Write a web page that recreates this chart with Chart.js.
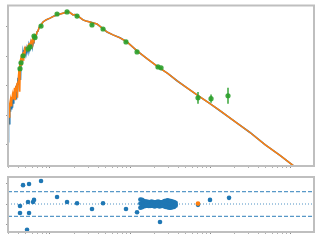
<!DOCTYPE html>
<html>
<head>
<meta charset="utf-8">
<script src="https://cdn.jsdelivr.net/npm/chart.js@4"></script>
<style>
  html, body { margin: 0; padding: 0; background: #fff; }
  #wrap { position: relative; width: 320px; height: 240px; }
  canvas { position: absolute; left: 0; }
  #sedChart { top: 0; }
  #residChart { top: 170px; }
</style>
</head>
<body>
<div id="wrap">
  <canvas id="sedChart" width="320" height="170"></canvas>
  <canvas id="residChart" width="320" height="70"></canvas>
</div>
<script>
// everything is log10: wavelength (Angstrom) and flux

// noisy UV part of the model, full res (blue) and binned (orange)
const uvWave = [2.475, 2.481, 2.488, 2.494, 2.500, 2.506, 2.513, 2.519, 2.525, 2.531,
  2.538, 2.544, 2.550, 2.556, 2.563, 2.569, 2.575, 2.581, 2.588, 2.594,
  2.600, 2.606, 2.613, 2.619, 2.625, 2.631, 2.638, 2.644, 2.650, 2.656,
  2.663, 2.669, 2.675, 2.681, 2.688, 2.700, 2.713, 2.725, 2.738, 2.750,
  2.763, 2.775, 2.788, 2.800, 2.813, 2.825, 2.838, 2.850, 2.863, 2.875];
const uvFluxModel = [-13.90, -13.15, -12.81, -13.32, -12.68, -12.88, -12.47, -12.81, -12.41, -12.75,
  -12.31, -12.61, -12.20, -12.47, -12.10, -12.31, -12.00, -12.47, -11.93, -12.20,
  -11.73, -11.97, -11.39, -11.59, -11.19, -11.80, -11.05, -11.29, -10.98, -11.19,
  -10.88, -11.05, -10.78, -10.98, -10.68, -10.92, -10.71, -10.85, -10.58, -10.68,
  -10.51, -10.64, -10.41, -10.47, -10.31, -10.34, -10.17, -10.14, -10.03, -9.97];
const uvFluxBinned = [-13.32, -12.98, -12.75, -13.09, -12.61, -12.47, -12.68, -12.37, -12.54, -12.31,
  -12.44, -12.20, -12.34, -12.07, -12.47, -12.14, -12.00, -12.20, -11.90, -12.41,
  -11.86, -11.66, -11.46, -11.25, -12.20, -11.12, -11.05, -11.32, -11.02, -10.95,
  -11.12, -10.85, -10.95, -10.78, -10.88, -10.71, -10.78, -10.64, -10.58, -10.61,
  -10.47, -10.58, -10.37, -10.44, -10.27, -10.31, -10.17, -10.14, -10.03, -9.97];

// smooth part, same in both
const contWave = [2.9125, 2.95, 3.0, 3.05, 3.0875, 3.15, 3.2125, 3.25, 3.2875, 3.3125,
  3.35, 3.4125, 3.45, 3.5, 3.5875, 3.65, 3.7125, 3.7875, 3.875, 3.9625,
  4.0875, 4.2125, 4.35, 4.475, 4.5875, 4.7125, 4.8375, 5.0, 5.125, 5.3125,
  5.5, 5.6875, 5.875, 6.0375, 6.1875];
const contFlux = [-9.83, -9.76, -9.70, -9.63, -9.59, -9.54, -9.49, -9.51, -9.59, -9.58,
  -9.63, -9.76, -9.80, -9.83, -9.90, -10.03, -10.17, -10.27, -10.37, -10.51,
  -10.81, -11.08, -11.36, -11.59, -11.83, -12.07, -12.31, -12.61, -12.85, -13.22,
  -13.59, -14.00, -14.37, -14.71, -15.02];

// photometry
const photWave = [2.625, 2.638, 2.663, 2.725, 2.750, 2.800, 2.813, 2.888, 3.088, 3.213,
  3.338, 3.525, 3.663, 3.950, 4.088, 4.350, 4.388, 4.850, 5.013, 5.225];
const photFlux = [-11.42, -11.22, -10.98, -10.75, -10.68, -10.31, -10.36, -9.97, -9.56, -9.49,
  -9.63, -9.93, -10.07, -10.51, -10.85, -11.36, -11.39, -12.41, -12.44, -12.34];
const photErr = [0.04, 0.04, 0.04, 0.03, 0.03, 0.03, 0.03, 0.03, 0.03, 0.03,
  0.03, 0.03, 0.03, 0.03, 0.03, 0.03, 0.03, 0.20, 0.14, 0.27];

// residuals (sigma)
const residWave = [2.625, 2.625, 2.663, 2.713, 2.725, 2.738, 2.738, 2.788, 2.800, 2.888,
  3.088, 3.213, 3.338, 3.525, 3.663, 3.950, 4.088, 4.375, 4.850, 5.000, 5.238];
const residValue = [-0.5, -2.2, 4.6, -6.3, 0.5, 4.9, -2.2, 0.5, 1.0, 5.6,
  1.7, 0.5, 0.2, -1.2, 0.2, -1.2, -2.0, -4.4, -0.2, 1.0, 1.5];
const clumpWave = [4.13, 4.15, 4.17, 4.19, 4.21, 4.23, 4.25, 4.27, 4.29, 4.31, 4.33, 4.35,
  4.37, 4.39, 4.41, 4.43, 4.45, 4.47, 4.49, 4.51, 4.53, 4.55, 4.57];
const clumpUpper = [1.1, 1.0, 0.8, 0.6, 0.6, 0.5, 0.5, 0.6, 0.5, 0.4, 0.5, 0.6,
  0.5, 0.4, 0.5, 0.7, 0.8, 0.9, 0.8, 0.7, 0.6, 0.5, 0.3];
const clumpMid = [0.1, 0.0, -0.1, 0.0, 0.1, 0.0, -0.1, 0.0, 0.1, 0.0, 0.0, 0.1,
  0.0, -0.1, 0.0, 0.1, 0.0, 0.0, -0.1, 0.0, 0.0, 0.1, -0.1];
const clumpLower = [-0.9, -0.8, -0.6, -0.5, -0.4, -0.5, -0.5, -0.4, -0.5, -0.6, -0.4, -0.5,
  -0.6, -0.5, -0.4, -0.6, -0.7, -0.8, -0.9, -0.9, -0.8, -0.7, -0.4];
const flaggedWave = [4.85];
const flaggedResid = [0.1];
const sigmaLevel = 3;

// axes
const xRange = [2.475, 6.3];
const sedRange = [-14.73, -9.27];
const residRange = [-6.83, 6.59];
const sedTicks = [-14, -13, -12, -11, -10];
const residTicks = [-5, 0, 5];

const pts = (xs, ys) => xs.map((x, i) => ({ x: x, y: ys[i] }));

function logTicks(min, max) {
  let out = [];
  for (let k = Math.floor(min); k <= Math.ceil(max); k++) {
    for (let m = 1; m <= 9; m++) {
      const v = k + Math.log10(m);
      if (v >= min && v <= max) out.push({ value: v, major: m === 1 });
    }
  }
  return out;
}

const framePlugin = {
  id: 'frame',
  afterDraw(chart) {
    const { ctx, chartArea: a } = chart;
    ctx.save();
    ctx.strokeStyle = '#bfbfbf';
    ctx.lineWidth = 2;
    ctx.strokeRect(a.left, a.top, a.right - a.left, a.bottom - a.top);
    ctx.restore();
  }
};

const errorBarPlugin = {
  id: 'errorBars',
  afterDatasetsDraw(chart) {
    const { ctx, chartArea: a, scales } = chart;
    ctx.save();
    ctx.beginPath();
    ctx.rect(a.left, a.top, a.right - a.left, a.bottom - a.top);
    ctx.clip();
    ctx.strokeStyle = '#2ca02c';
    ctx.lineWidth = 1.4;
    photWave.forEach((w, i) => {
      const px = scales.x.getPixelForValue(w);
      ctx.beginPath();
      ctx.moveTo(px, scales.y.getPixelForValue(photFlux[i] - photErr[i]));
      ctx.lineTo(px, scales.y.getPixelForValue(photFlux[i] + photErr[i]));
      ctx.stroke();
    });
    ctx.restore();
  }
};

function xAxis() {
  return {
    type: 'linear',
    min: xRange[0],
    max: xRange[1],
    afterBuildTicks: (s) => { s.ticks = logTicks(xRange[0], xRange[1]); },
    afterFit: (s) => { s.height = 2; },
    ticks: { display: false },
    border: { display: false },
    grid: {
      drawOnChartArea: false,
      drawTicks: true,
      tickLength: 2,
      tickWidth: 1,
      tickColor: (c) => (c.tick && c.tick.major ? '#8c8c8c' : '#b0b0b0')
    }
  };
}

function yAxis(range, tickList) {
  return {
    type: 'linear',
    min: range[0],
    max: range[1],
    afterBuildTicks: (s) => { s.ticks = tickList.map((v) => ({ value: v })); },
    afterFit: (s) => { s.width = 2; },
    ticks: { display: false },
    border: { display: false },
    grid: { drawOnChartArea: false, drawTicks: true, tickLength: 2, tickWidth: 1, tickColor: '#9a9a9a' }
  };
}

const common = {
  responsive: false,
  animation: false,
  devicePixelRatio: 1,
  plugins: { legend: { display: false }, tooltip: { enabled: false } }
};

new Chart(document.getElementById('sedChart'), {
  type: 'scatter',
  data: {
    datasets: [
      {
        data: pts(photWave, photFlux),
        pointRadius: 2.6,
        pointBackgroundColor: 'rgba(44,160,44,0.9)',
        pointBorderWidth: 0,
        order: 0
      },
      {
        data: pts(uvWave, uvFluxBinned).concat(pts(contWave, contFlux)),
        showLine: true,
        borderColor: '#ff7f0e',
        borderWidth: 1.5,
        pointRadius: 0,
        order: 1
      },
      {
        data: pts(uvWave, uvFluxModel).concat(pts(contWave, contFlux)),
        showLine: true,
        borderColor: '#1f77b4',
        borderWidth: 1.6,
        pointRadius: 0,
        order: 2
      }
    ]
  },
  options: Object.assign({}, common, {
    layout: { padding: { left: 6, right: 6, top: 5.5, bottom: 1.5 } },
    scales: { x: xAxis(), y: yAxis(sedRange, sedTicks) }
  }),
  plugins: [errorBarPlugin, framePlugin]
});

const fullX = [xRange[0], xRange[1]];

new Chart(document.getElementById('residChart'), {
  type: 'scatter',
  data: {
    datasets: [
      {
        data: pts(flaggedWave, flaggedResid),
        pointRadius: 2.3,
        pointBackgroundColor: '#ff7f0e',
        pointBorderWidth: 0,
        clip: false,
        order: 0
      },
      {
        data: pts(residWave, residValue)
          .concat(pts(clumpWave, clumpUpper))
          .concat(pts(clumpWave, clumpMid))
          .concat(pts(clumpWave, clumpLower)),
        pointRadius: 2.3,
        pointBackgroundColor: '#1f77b4',
        pointBorderWidth: 0,
        clip: false,
        order: 1
      },
      {
        data: pts(fullX, [sigmaLevel, sigmaLevel]),
        showLine: true, pointRadius: 0,
        borderColor: '#2f7fba', borderWidth: 1, borderDash: [4, 2],
        order: 2
      },
      {
        data: pts(fullX, [-sigmaLevel, -sigmaLevel]),
        showLine: true, pointRadius: 0,
        borderColor: '#2f7fba', borderWidth: 1, borderDash: [4, 2],
        order: 2
      },
      {
        data: pts(fullX, [0, 0]),
        showLine: true, pointRadius: 0,
        borderColor: 'rgba(47,127,186,0.85)', borderWidth: 1, borderDash: [1, 2],
        order: 3
      }
    ]
  },
  options: Object.assign({}, common, {
    layout: { padding: { left: 6, right: 6, top: 7, bottom: 6 } },
    scales: { x: xAxis(), y: yAxis(residRange, residTicks) }
  }),
  plugins: [framePlugin]
});
</script>
</body>
</html>
